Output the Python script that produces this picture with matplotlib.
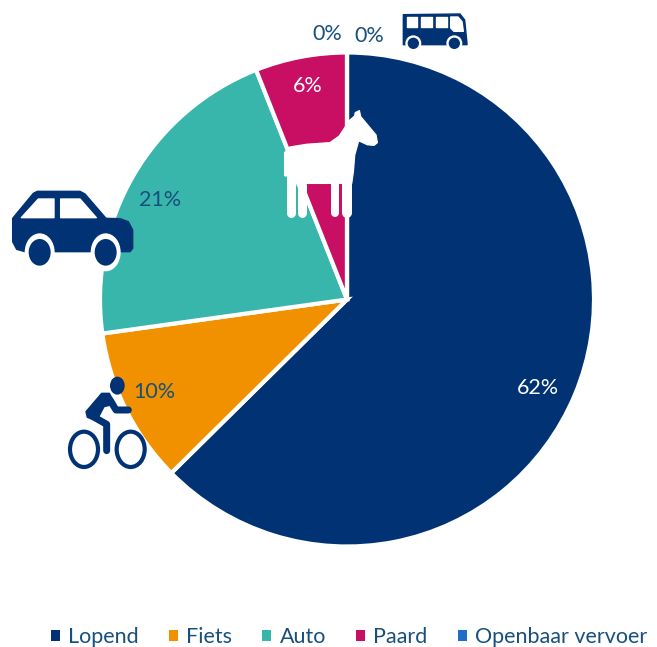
import matplotlib
matplotlib.use("Agg")
import matplotlib.pyplot as plt
from matplotlib.patches import Polygon, Ellipse, Patch
from matplotlib.lines import Line2D

categories = ["Lopend", "Fiets", "Auto", "Paard", "Openbaar vervoer"]
values = [62.6, 10.2, 21.2, 6.0, 0.0]
colors = ["#003274", "#F29100", "#38B6AB", "#C90F63", "#1F6EC8"]
pct_labels = ["62%", "10%", "21%", "6%", "0%", "0%"]
label_colors = ["white", "#17507D", "#17507D", "white", "#17507D", "#17507D"]
label_pos_px = [(538, 388), (154, 392), (160, 200), (308, 86), (327, 34), (369, 36)]

W, H = 657, 647
NAVY = "#003274"
plt.rcParams["font.family"] = ["Lato", "DejaVu Sans"]

fig = plt.figure(figsize=(W / 100, H / 100), dpi=100)
ax = fig.add_axes([0, 0, 1, 1])
ax.pie(values, colors=colors, startangle=90, counterclock=False,
       center=(347, H - 299.5), radius=247, frame=True,
       wedgeprops=dict(edgecolor="white", linewidth=3))
ax.set_xlim(0, W)
ax.set_ylim(0, H)
ax.axis("off")

for txt, col, (x, y) in zip(pct_labels, label_colors, label_pos_px):
    ax.text(x, H - y, txt, color=col, fontsize=15.5, ha="center", va="center", zorder=5)


def poly(pts, ox, oy, color, z=6):
    xy = [(ox + a / 3, H - (oy + b / 3)) for a, b in pts]
    ax.add_patch(Polygon(xy, closed=True, facecolor=color, edgecolor=color,
                         linewidth=1.0, joinstyle="round", zorder=z))


def ell(cx, cy, rx, ry, ox, oy, color, z=7, fill=True, lw=0):
    ax.add_patch(Ellipse((ox + cx / 3, H - (oy + cy / 3)), 2 * rx / 3, 2 * ry / 3,
                         facecolor=color if fill else "none",
                         edgecolor=color, linewidth=lw, zorder=z))


def stroke(pts, ox, oy, color, width, z=6):
    ax.add_line(Line2D([ox + a / 3 for a, b in pts], [H - (oy + b / 3) for a, b in pts],
                       color=color, linewidth=width * 0.72, solid_capstyle="round",
                       solid_joinstyle="round", zorder=z))


# Horse icon
ox, oy = 270, 0
poly([(256, 338), (268, 332), (272, 350), (318, 405), (322, 428), (312, 436), (292, 434),
      (266, 422), (254, 465), (250, 515), (245, 550), (108, 550), (90, 572), (70, 530),
      (44, 527), (44, 458), (60, 441), (110, 433), (180, 428), (208, 408), (238, 362), (254, 348)],
     ox, oy, "white")
for a, top, w in [(62, 530, 9), (96, 555, 9), (195, 545, 8), (230, 545, 10)]:
    stroke([(a, top), (a, 640)], ox, oy, "white", w)

# Bus icon
poly([(400, 44), (570, 42), (584, 60), (591, 130), (591, 134), (400, 134)], ox, oy, NAVY)
for win in [[(410, 51), (442, 51), (442, 82), (410, 82)],
            [(453, 51), (487, 51), (487, 82), (453, 82)],
            [(498, 51), (531, 51), (531, 82), (498, 82)],
            [(542, 51), (564, 51), (576, 65), (580, 94), (552, 94), (542, 84)]]:
    poly(win, ox, oy, "white", z=7)
for cx in (430, 553):
    ell(cx, 130, 24, 24, ox, oy, "white", z=7)
    ell(cx, 130, 17, 17, ox, oy, NAVY, z=8)

# Car icon
ox, oy = 0, 180
poly([(38, 115), (100, 40), (112, 34), (240, 34), (255, 42), (318, 115), (360, 116), (385, 125),
      (398, 150), (398, 205), (390, 215), (75, 215), (50, 208), (38, 185)], ox, oy, NAVY)
poly([(64, 113), (115, 57), (162, 57), (162, 113)], ox, oy, "white", z=7)
poly([(182, 57), (240, 57), (289, 113), (182, 113)], ox, oy, "white", z=7)
for cx in (119, 317):
    ell(cx, 217, 45, 57, ox, oy, "white", z=7)
    ell(cx, 217, 33, 40, ox, oy, NAVY, z=8)

# Bicycle icon
ell(352, 617, 22, 27, ox, oy, NAVY)
poly([(305, 640), (328, 640), (345, 672), (312, 680), (290, 722), (262, 712), (258, 695)], ox, oy, NAVY)
stroke([(276, 708), (320, 733), (320, 812)], ox, oy, NAVY, 7)
stroke([(330, 660), (348, 690), (385, 690)], ox, oy, NAVY, 7)
ell(252, 808, 42, 53, ox, oy, NAVY, fill=False, lw=3)
ell(392, 808, 42, 53, ox, oy, NAVY, fill=False, lw=3)

# Legend
handles = [Patch(facecolor=c, edgecolor="none") for c in colors]
fig.legend(handles, categories, ncols=5, loc="lower left", bbox_to_anchor=(51 / W, 0),
           frameon=False, fontsize=15.5, labelcolor="#17507D", handlelength=0.42, handleheight=0.42,
           handletextpad=0.38, columnspacing=1.4, borderaxespad=0, borderpad=0)

fig.savefig("out.png", dpi=100)
